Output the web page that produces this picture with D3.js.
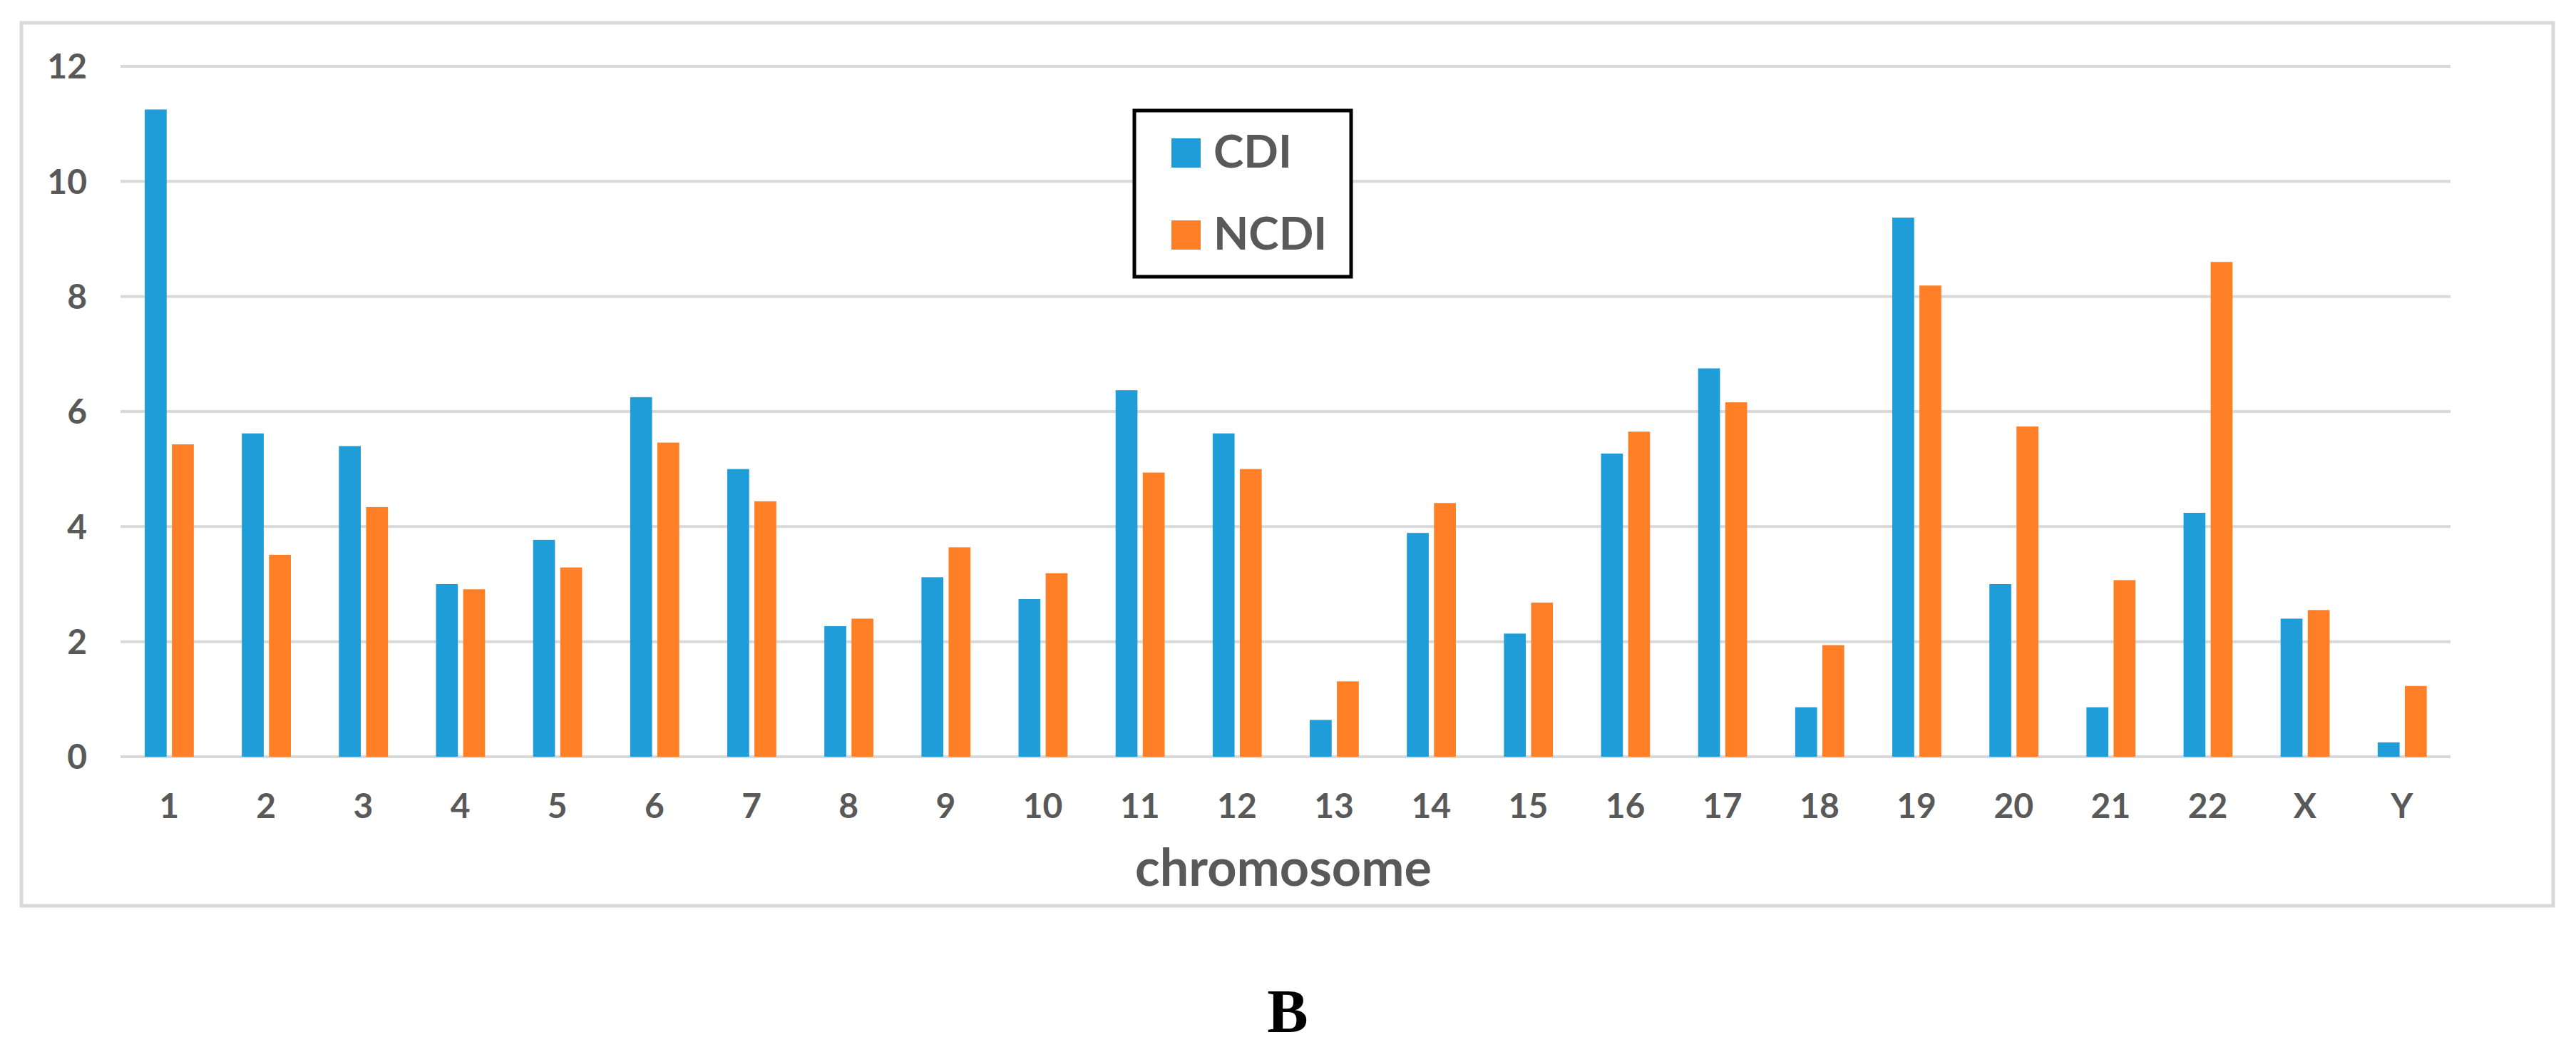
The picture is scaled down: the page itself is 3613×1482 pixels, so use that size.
<!DOCTYPE html>
<html>
<head>
<meta charset="utf-8">
<script src="https://cdn.jsdelivr.net/npm/d3@7"></script>
<style>
  html, body { margin: 0; padding: 0; background: #ffffff; }
  svg { display: block; }
</style>
</head>
<body>
<svg id="chart" width="3613" height="1482"></svg>
<script>
// ---- data ----
const categories = ["1","2","3","4","5","6","7","8","9","10","11","12","13","14","15","16","17","18","19","20","21","22","X","Y"];
const seriesNames = ["CDI", "NCDI"];
const cdiValues  = [11.25, 5.62, 5.4, 3.0, 3.77, 6.25, 5.0, 2.27, 3.12, 2.74, 6.37, 5.62, 0.64, 3.89, 2.14, 5.27, 6.75, 0.86, 9.37, 3.0, 0.86, 4.24, 2.4, 0.25];
const ncdiValues = [5.43, 3.51, 4.34, 2.91, 3.29, 5.46, 4.44, 2.4, 3.64, 3.19, 4.94, 5.0, 1.31, 4.41, 2.68, 5.65, 6.16, 1.94, 8.19, 5.74, 3.07, 8.6, 2.55, 1.23];
const yTicks = [0, 2, 4, 6, 8, 10, 12];
const xTitle = "chromosome";
const panelLabel = "B";

// ---- layout ----
const svg = d3.select("#chart");
const colors = { CDI: "#1e9dd9", NCDI: "#ff7f27" };
const textColor = "#595959";
const gridColor = "#d9d9d9";
const plot = { left: 169, right: 3437, top: 93, bottom: 1061 };

svg.append("rect").attr("width", 3613).attr("height", 1482).attr("fill", "#ffffff");

// outer chart border
svg.append("rect")
  .attr("x", 30).attr("y", 32).attr("width", 3551).attr("height", 1238)
  .attr("fill", "none").attr("stroke", gridColor).attr("stroke-width", 5);

const x0 = d3.scaleBand().domain(categories).range([plot.left, plot.right]).paddingInner(0).paddingOuter(0);
const bw = x0.bandwidth();
const x1 = d3.scaleBand().domain(seriesNames).range([bw * 0.25, bw * 0.755]).paddingInner(0.194).paddingOuter(0);
const y = d3.scaleLinear().domain([0, 12]).range([plot.bottom, plot.top]);

// gridlines
svg.append("g").selectAll("line").data(yTicks).join("line")
  .attr("x1", plot.left).attr("x2", plot.right)
  .attr("y1", d => y(d)).attr("y2", d => y(d))
  .attr("stroke", gridColor).attr("stroke-width", 4);

// y labels
const yAxis = d3.axisLeft(y).tickValues(yTicks).tickSize(0).tickPadding(0).tickFormat(d3.format("d"));
const gy = svg.append("g").attr("transform", `translate(122,0)`).call(yAxis);
gy.select(".domain").remove();
gy.selectAll("text")
  .attr("font-family", "Lato, 'Open Sans', sans-serif").attr("font-weight", "bold")
  .attr("font-size", 48).attr("fill", textColor).attr("dy", "0.35em");

// x labels
const xAxis = d3.axisBottom(x0).tickSize(0).tickPadding(0);
const gx = svg.append("g").attr("transform", `translate(0,1147)`).call(xAxis);
gx.select(".domain").remove();
gx.selectAll("text")
  .attr("font-family", "Lato, 'Open Sans', sans-serif").attr("font-weight", "bold")
  .attr("font-size", 48).attr("fill", textColor).attr("dy", 0).attr("y", 0);

// bars
const rows = categories.map((c, i) => ({ cat: c, CDI: cdiValues[i], NCDI: ncdiValues[i] }));
const groups = svg.append("g").selectAll("g").data(rows).join("g")
  .attr("transform", d => `translate(${x0(d.cat)},0)`);
groups.selectAll("rect").data(d => seriesNames.map(s => ({ s, v: d[s] }))).join("rect")
  .attr("x", d => x1(d.s)).attr("width", x1.bandwidth())
  .attr("y", d => y(d.v)).attr("height", d => y(0) - y(d.v))
  .attr("fill", d => colors[d.s]);

// x title
svg.append("text").attr("x", (plot.left + plot.right) / 2 - 3).attr("y", 1242).attr("text-anchor", "middle")
  .attr("font-family", "Lato, 'Open Sans', sans-serif").attr("font-weight", "bold")
  .attr("font-size", 72).attr("fill", textColor).text(xTitle);

// legend
const lg = svg.append("g");
lg.append("rect").attr("x", 1591).attr("y", 155).attr("width", 304).attr("height", 233)
  .attr("fill", "#ffffff").attr("stroke", "#000000").attr("stroke-width", 5);
seriesNames.forEach((s, i) => {
  const yy = 194 + i * 115;
  lg.append("rect").attr("x", 1643).attr("y", yy).attr("width", 41).attr("height", 41).attr("fill", colors[s]);
  lg.append("text").attr("x", 1702).attr("y", yy + 41)
    .attr("font-family", "Lato, 'Open Sans', sans-serif").attr("font-weight", "bold")
    .attr("font-size", 64).attr("fill", textColor).text(s);
});

// panel label
svg.append("text").attr("x", 1806).attr("y", 1447).attr("text-anchor", "middle")
  .attr("font-family", "'Liberation Serif', 'Times New Roman', serif").attr("font-weight", "bold")
  .attr("font-size", 86).attr("fill", "#000000").text(panelLabel);
</script>
</body>
</html>
